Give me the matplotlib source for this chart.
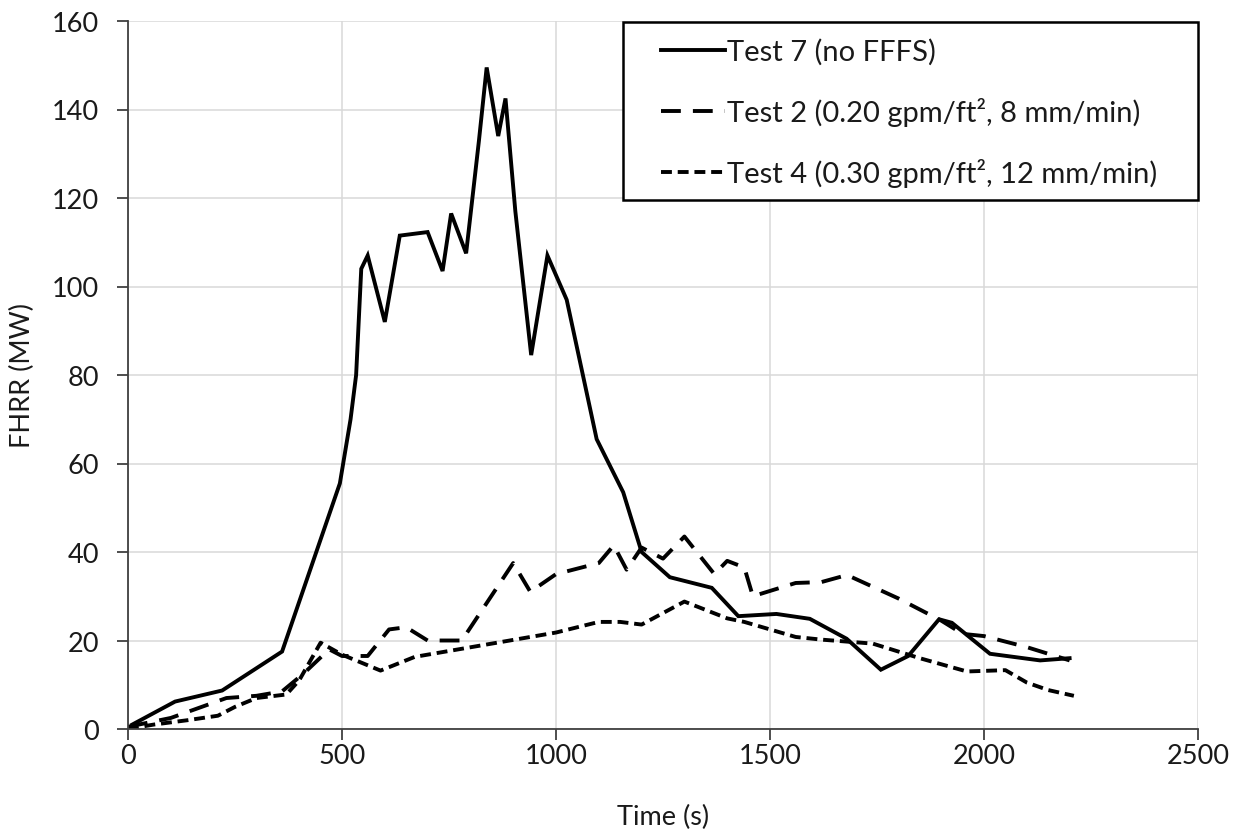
import matplotlib
matplotlib.use("Agg")
import matplotlib.pyplot as plt
from matplotlib.patches import Rectangle

# ---- data ----
t7_time = [10, 110, 220, 360, 495, 520, 533, 545, 560, 600, 635, 700, 735, 755, 790, 820, 838, 865, 882,
           905, 942, 980, 1025, 1095, 1157, 1200, 1266, 1364, 1426, 1515, 1593, 1679, 1759, 1823, 1895,
           1925, 2014, 2131, 2200]
t7_hrr = [1, 6.2, 8.7, 17.5, 55.5, 70, 80, 104, 107, 92, 111.5, 112.3, 103.5, 116.5, 107.5, 133, 149.5,
          134, 142.5, 117, 84.5, 107, 97, 65.5, 53.5, 40, 34.3, 31.9, 25.5, 26, 24.9, 20.4, 13.4, 16.5,
          24.8, 24, 17, 15.5, 16]

t2_time = [0, 100, 230, 300, 360, 410, 470, 500, 560, 610, 650, 700, 780, 900, 940, 1000, 1100, 1135,
           1165, 1200, 1250, 1300, 1370, 1400, 1440, 1460, 1560, 1620, 1680, 1800, 1900, 1950, 2000,
           2100, 2200]
t2_hrr = [0.5, 2.5, 7, 7.5, 8.5, 12.5, 18, 16.5, 16.5, 22.5, 23, 20, 20, 37.5, 31, 35, 37.5, 41.5, 36,
          41, 38.5, 43.5, 35, 38, 36.5, 30, 33, 33.2, 34.8, 29.5, 24.5, 21.5, 21, 18.5, 15.5]

t4_time = [0, 60, 140, 210, 250, 300, 370, 400, 450, 500, 590, 670, 1000, 1100, 1150, 1200, 1300,
           1400, 1440, 1560, 1620, 1740, 1850, 1960, 2050, 2100, 2150, 2210]
t4_hrr = [0, 1, 2, 3, 5, 7, 7.8, 11, 19.5, 16.8, 13.2, 16.3, 21.8, 24.2, 24.2, 23.6, 28.8, 25, 24.2,
          20.8, 20.2, 19.3, 16, 13, 13.3, 10.5, 8.8, 7.5]

labels = ["Test 7 (no FFFS)",
          "Test 2 (0.20 gpm/ft\u00b2, 8 mm/min)",
          "Test 4 (0.30 gpm/ft\u00b2, 12 mm/min)"]
x_ticks = [0, 500, 1000, 1500, 2000, 2500]
y_ticks = [0, 20, 40, 60, 80, 100, 120, 140, 160]

# ---- style ----
plt.rcParams['font.family'] = ['Lato', 'DejaVu Sans']
FS = 19.5
LFS = 21
TXT = '#1a1a1a'

fig = plt.figure(figsize=(12.4, 8.37), dpi=100)
ax = fig.add_axes([128/1240, 1-730/837, 1070/1240, 708/837])

lw = 2.8
ax.plot(t7_time, t7_hrr, color='black', lw=lw, solid_joinstyle='miter', label=labels[0])
ax.plot(t2_time, t2_hrr, color='black', lw=lw, linestyle=(0, (5.1, 3.1)), dash_capstyle='butt',
        label=labels[1])
ax.plot(t4_time, t4_hrr, color='black', lw=lw, linestyle=(0, (2.8, 1.5)), dash_capstyle='butt',
        label=labels[2])

ax.set_xlim(0, 2500)
ax.set_ylim(0, 160)
ax.set_xticks(x_ticks)
ax.set_yticks(y_ticks)
ax.grid(True, color='#d9d9d9', lw=1.1)
ax.set_axisbelow(True)
for s in ['top', 'right']:
    ax.spines[s].set_visible(False)
for s in ['left', 'bottom']:
    ax.spines[s].set_color('#404040')
    ax.spines[s].set_linewidth(1.3)
ax.tick_params(axis='both', direction='out', length=8, width=1.3, color='#404040',
               labelsize=FS, labelcolor=TXT)
ax.tick_params(axis='y', pad=13)
ax.tick_params(axis='x', pad=2)

ax.set_xlabel("Time (s)", fontsize=FS, color=TXT, labelpad=26)
ax.set_ylabel("FHRR (MW)", fontsize=FS, color=TXT, labelpad=12)

# legend box
rect = Rectangle(((623-128)/1070, (730-201)/708), (1198-623)/1070, (201-23)/708,
                 transform=ax.transAxes, facecolor='white', edgecolor='black', lw=1.8,
                 zorder=5, clip_on=False)
ax.add_patch(rect)
leg = ax.legend(loc='upper left', bbox_to_anchor=((661-128)/1070, (730-39)/708),
                frameon=False, fontsize=LFS, handlelength=2.2, handletextpad=0.05,
                labelspacing=1.1, borderpad=0, borderaxespad=0)
leg.set_zorder(6)
for t in leg.get_texts():
    t.set_color(TXT)

fig.savefig("out.png", dpi=100)
